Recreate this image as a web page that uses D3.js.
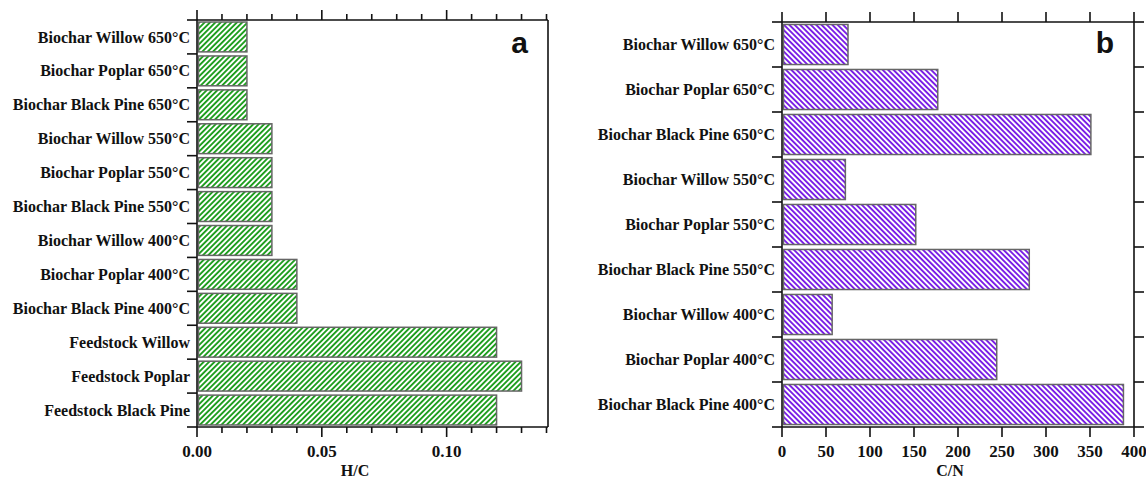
<!DOCTYPE html>
<html lang="en"><head>
<meta charset="utf-8">
<script src="https://d3js.org/d3.v7.min.js"></script>
<style>
  body { margin: 0; background: #fff; }
  text { font-family: "Liberation Serif", "Times New Roman", serif; font-weight: bold; fill: #111; }
</style>
</head>
<body>
<div id="chart"></div>
<script>
// panel a : H/C (top to bottom)
const categoriesA = ["Biochar Willow 650°C", "Biochar Poplar 650°C", "Biochar Black Pine 650°C",
  "Biochar Willow 550°C", "Biochar Poplar 550°C", "Biochar Black Pine 550°C",
  "Biochar Willow 400°C", "Biochar Poplar 400°C", "Biochar Black Pine 400°C",
  "Feedstock Willow", "Feedstock Poplar", "Feedstock Black Pine"];
const valuesA = [0.02, 0.02, 0.02, 0.03, 0.03, 0.03, 0.03, 0.04, 0.04, 0.12, 0.13, 0.12];
const ticksA = [0.00, 0.05, 0.10];

// panel b : C/N (top to bottom)
const categoriesB = ["Biochar Willow 650°C", "Biochar Poplar 650°C", "Biochar Black Pine 650°C",
  "Biochar Willow 550°C", "Biochar Poplar 550°C", "Biochar Black Pine 550°C",
  "Biochar Willow 400°C", "Biochar Poplar 400°C", "Biochar Black Pine 400°C"];
const valuesB = [75, 177, 351, 72, 152, 281, 57, 244, 388];
const ticksB = [0, 50, 100, 150, 200, 250, 300, 350, 400];

const W = 1146, H = 480;
const svg = d3.select("#chart").append("svg").attr("width", W).attr("height", H);

// hatch patterns
const defs = svg.append("defs");
function hatch(id, color, angle) {
  const s = 3.8;
  const p = defs.append("pattern").attr("id", id)
    .attr("patternUnits", "userSpaceOnUse")
    .attr("width", s).attr("height", s)
    .attr("patternTransform", `rotate(${angle})`);
  p.append("rect").attr("width", s).attr("height", s).attr("fill", "#fff");
  p.append("rect").attr("width", s / 2).attr("height", s).attr("fill", color);
}
hatch("hatchA", "#1f9e1f", 45);
hatch("hatchB", "#7a1fe6", -45);

function panel(opt) {
  const g = svg.append("g");
  const x = d3.scaleLinear().domain(opt.domain).range([opt.x0, opt.x1]);
  const y = d3.scaleBand().domain(opt.cats).range([opt.y0, opt.y1]).paddingInner(opt.pad).paddingOuter(opt.pad / 2);
  const step = y.step();

  // bars
  g.selectAll("rect.bar").data(opt.cats).join("rect")
    .attr("class", "bar")
    .attr("x", x(0) + 1.5)
    .attr("y", d => y(d))
    .attr("width", (d, i) => x(opt.values[i]) - x(0) - 1.5)
    .attr("height", y.bandwidth())
    .attr("fill", `url(#${opt.pattern})`)
    .attr("stroke", "#666").attr("stroke-width", 1.5);

  // frame lines
  const line = (x1, y1, x2, y2) => g.append("line")
    .attr("x1", x1).attr("y1", y1).attr("x2", x2).attr("y2", y2)
    .attr("stroke", "#111").attr("stroke-width", 1.6);
  line(opt.x0, opt.y0, opt.x1, opt.y0);
  line(opt.x0, opt.y1, opt.x1, opt.y1);
  line(opt.x0, opt.y0, opt.x0, opt.y1);
  line(opt.x1, opt.y0, opt.x1, opt.y1);

  // category boundary ticks
  const bounds = d3.range(opt.cats.length + 1).map(i => opt.y0 + i * step);
  bounds.forEach(b => {
    line(opt.x0 - 10, b, opt.x0, b);
    if (opt.rightTicks) line(opt.x1, b, opt.x1 + 10, b);
  });

  // category labels
  g.selectAll("text.cat").data(opt.cats).join("text")
    .attr("class", "cat")
    .attr("x", opt.x0 - 7)
    .attr("y", d => y(d) + y.bandwidth() / 2)
    .attr("dy", "0.35em")
    .attr("text-anchor", "end")
    .attr("font-size", 16)
    .text(d => d);

  // x ticks
  opt.minor.forEach(v => {
    const major = opt.major.some(m => Math.abs(m - v) < 1e-9);
    const len = major ? 10 : 6;
    line(x(v), opt.y1, x(v), opt.y1 + len);
    line(x(v), opt.y0, x(v), opt.y0 - len);
  });
  g.selectAll("text.tick").data(opt.major).join("text")
    .attr("class", "tick")
    .attr("x", d => x(d))
    .attr("y", 457)
    .attr("text-anchor", "middle")
    .attr("font-size", 17)
    .text(opt.fmt);

  g.append("text").attr("x", opt.titleX).attr("y", 476)
    .attr("text-anchor", "middle").attr("font-size", 16).text(opt.title);

  g.append("text").attr("x", opt.x1 - 20).attr("y", 53)
    .attr("text-anchor", "end")
    .style("font-family", "'Liberation Sans', Arial, sans-serif")
    .attr("font-size", 30).text(opt.letter);
}

panel({
  cats: categoriesA, values: valuesA, domain: [0, 0.1406],
  x0: 197, x1: 548, y0: 20, y1: 427, pad: 0.12,
  pattern: "hatchA", rightTicks: false,
  major: ticksA, minor: d3.range(0, 0.1401, 0.01),
  fmt: d3.format(".2f"), title: "H/C", titleX: 355, letter: "a"
});

panel({
  cats: categoriesB, values: valuesB, domain: [0, 400],
  x0: 782, x1: 1134, y0: 22, y1: 427, pad: 0.11,
  pattern: "hatchB", rightTicks: true,
  major: ticksB, minor: ticksB,
  fmt: d => d, title: "C/N", titleX: 950, letter: "b"
});
</script>
</body>
</html>
